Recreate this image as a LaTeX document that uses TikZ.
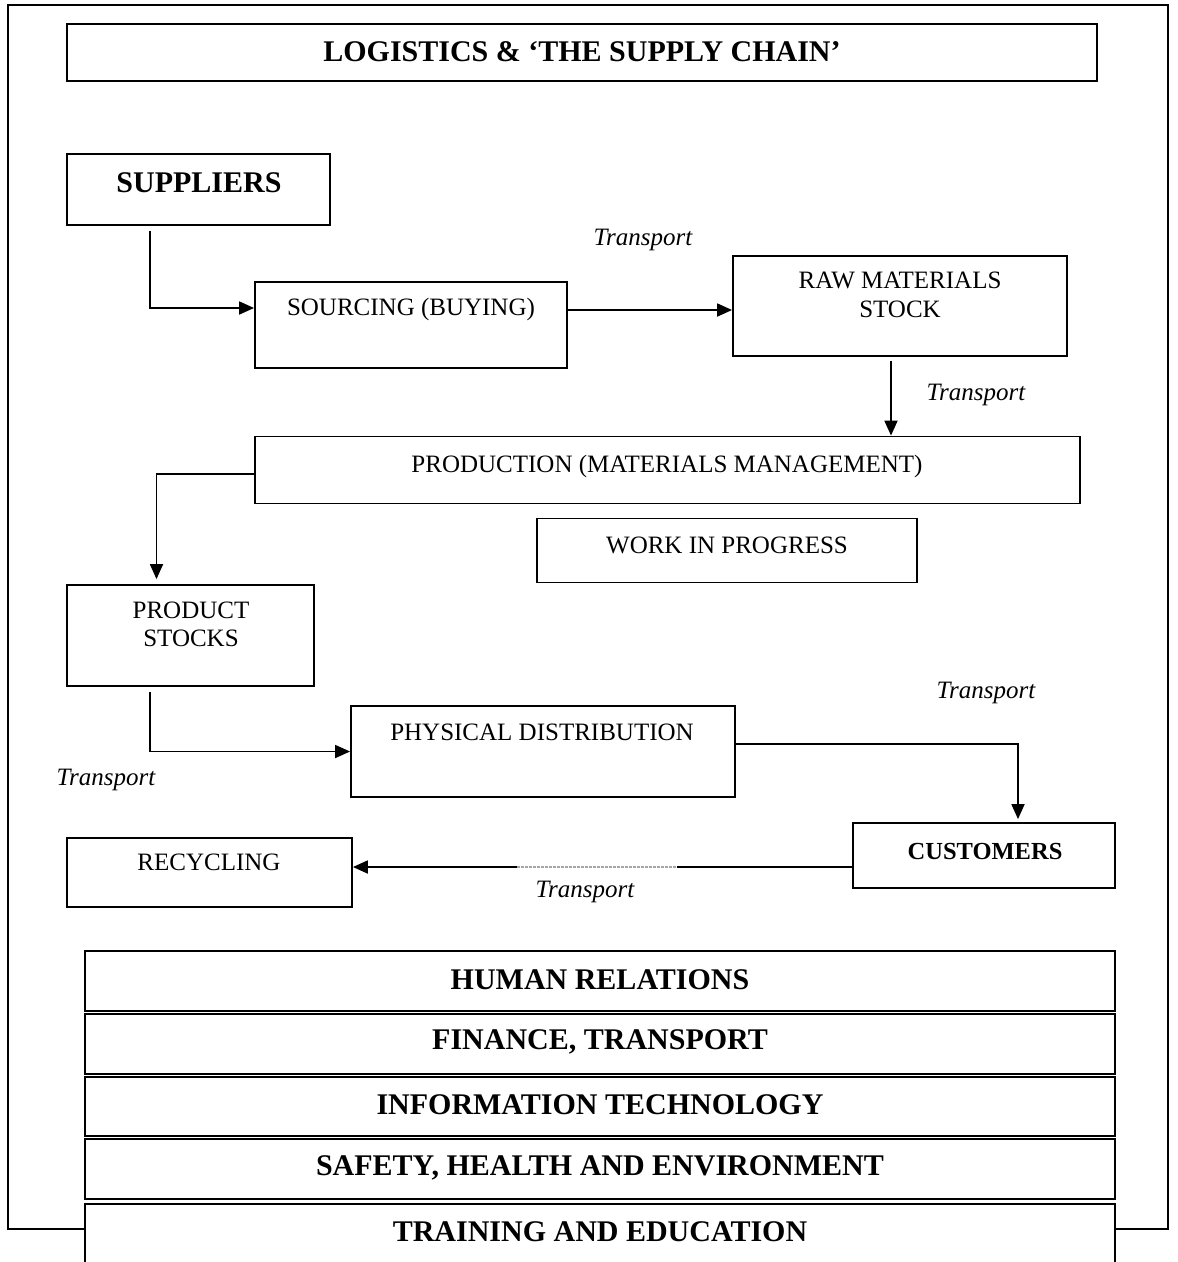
\documentclass[tikz,border=0pt]{standalone}
\usepackage{fontspec}
\setmainfont{Liberation Serif}
\usetikzlibrary{arrows.meta}
\begin{document}
\begin{tikzpicture}[x=1pt,y=-1pt,
  box/.style={draw, line width=1.8pt, fill=white, inner sep=0pt},
  bandbox/.style={draw, line width=2.4pt, fill=white, inner sep=0pt,
    minimum width=1030pt},
  txt/.style={inner sep=0pt, align=center, font=\fontsize{25}{28.5}\selectfont},
  btxt/.style={inner sep=0pt, align=center, font=\fontsize{30}{34}\selectfont\bfseries},
  ital/.style={inner sep=0pt, font=\fontsize{25}{29}\selectfont\itshape},
  flow/.style={line width=1.8pt, -{Triangle[length=15pt,width=13pt]}}]
\useasboundingbox (0,0) rectangle (1178,1262);
\fill[white] (0,0) rectangle (1178,1262);

% outer frame
\draw[line width=1.8pt] (8,5) rectangle (1168,1229);

% title
\node[box, minimum width=1030pt, minimum height=57pt] (title) at (582,52.5) {};
\node[btxt] (title-t) at (582,52) {LOGISTICS \& ‘THE SUPPLY CHAIN’};

% flow boxes
\node[box, minimum width=263pt, minimum height=71pt] (sup) at (198.5,189.5) {};
\node[btxt] (sup-t) at (199,183) {SUPPLIERS};

\node[box, minimum width=312pt, minimum height=86pt] (src) at (411,325) {};
\node[txt] (src-t) at (411,309) {SOURCING (BUYING)};

\node[box, minimum width=334pt, minimum height=100pt] (raw) at (900,306) {};
\node[txt] (raw-t) at (900,295) {RAW MATERIALS\\STOCK};

\node[box, minimum width=825pt, minimum height=67pt] (prod) at (667.5,470) {};
\node[txt] (prod-t) at (667,466) {PRODUCTION (MATERIALS MANAGEMENT)};

\node[box, minimum width=380pt, minimum height=64pt] (wip) at (727,550.5) {};
\node[txt] (wip-t) at (727,545) {WORK IN PROGRESS};

\node[box, minimum width=247pt, minimum height=101pt] (ps) at (190.5,635.5) {};
\node[txt] (ps-t) at (191,624.5) {PRODUCT\\STOCKS};

\node[box, minimum width=384pt, minimum height=91pt] (pd) at (543,751.5) {};
\node[txt] (pd-t) at (542,732) {PHYSICAL DISTRIBUTION};

\node[box, minimum width=262pt, minimum height=65pt] (cust) at (984,855.5) {};
\node[txt, font=\fontsize{24.5}{28}\selectfont\bfseries] (cust-t) at (985,851) {CUSTOMERS};

\node[box, minimum width=285pt, minimum height=69pt] (rec) at (209.5,872.5) {};
\node[txt] (rec-t) at (209,862) {RECYCLING};

% connectors
\draw[flow] ([xshift=-48.5pt,yshift=-5pt]sup.south) |- ([yshift=17pt]src.west);
\draw[flow] ([yshift=15pt]src.east) -- ([yshift=15pt]src.east -| raw.west);
\draw[flow] ([xshift=-9pt,yshift=-4pt]raw.south) -- ([xshift=-9pt]raw.south |- prod.north);
\draw[flow] ([yshift=-4pt]prod.west) -| ([xshift=-34pt,yshift=5pt]ps.north);
\draw[flow] ([xshift=-40.5pt,yshift=-5pt]ps.south) |- (pd.west);
\draw[flow] ([yshift=7.5pt]pd.east) -| ([xshift=34pt,yshift=3pt]cust.north);
\draw[flow] ([yshift=-11.5pt]cust.west) -- ([yshift=-11.5pt]cust.west -| rec.east);
\draw[white, line width=2pt] (517,867) -- (677,867);
\draw[gray!70, line width=1.6pt, dash pattern=on 3pt off 1pt] (517,867) -- (677,867);

% transport labels
\node[ital] (tr1) at (643,240) {Transport};
\node[ital] (tr2) at (976,395) {Transport};
\node[ital] (tr3) at (986,693) {Transport};
\node[ital] (tr4) at (106,780) {Transport};
\node[ital] (tr5) at (585,892) {Transport};

% support functions
\node[bandbox, minimum height=60pt] (hr) at (600,981) {};
\node[btxt] (hr-t) at (600,980) {HUMAN RELATIONS};
\node[bandbox, minimum height=60pt] (fin) at (600,1044) {};
\node[btxt] (fin-t) at (600,1042) {FINANCE, TRANSPORT};
\node[bandbox, minimum height=59pt] (it) at (600,1106.5) {};
\node[btxt] (it-t) at (600,1105) {INFORMATION TECHNOLOGY};
\node[bandbox, minimum height=60pt] (she) at (600,1169) {};
\node[btxt] (she-t) at (600,1168) {SAFETY, HEALTH AND ENVIRONMENT};
\node[bandbox, minimum height=70pt] (edu) at (600,1239) {};
\node[btxt] (edu-t) at (600,1232) {TRAINING AND EDUCATION};
\end{tikzpicture}
\end{document}
